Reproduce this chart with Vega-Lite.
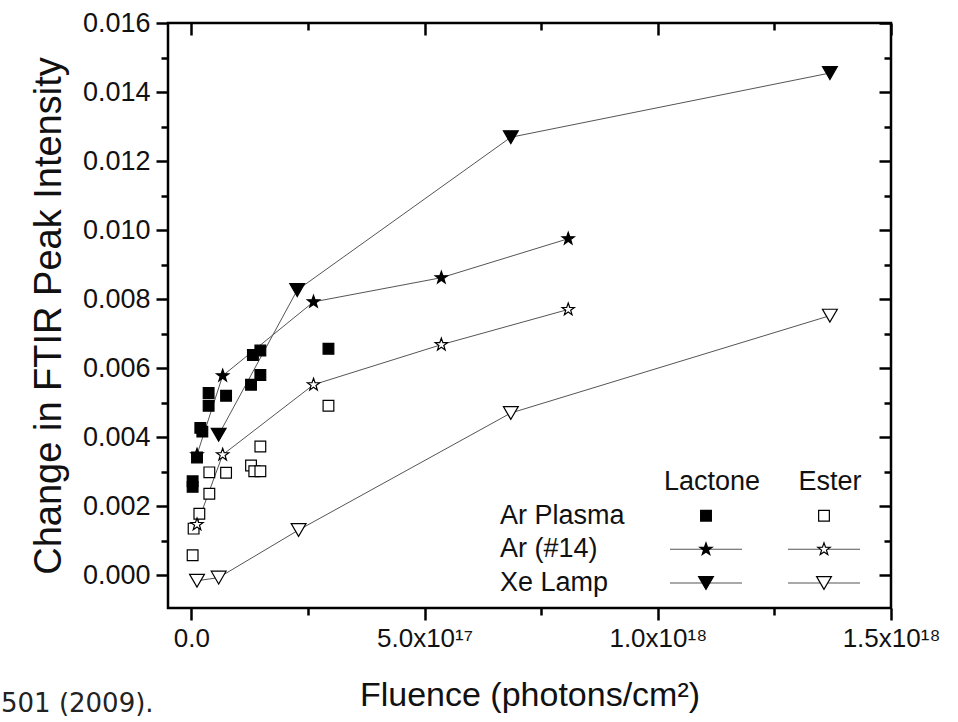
{
  "$schema": "https://vega.github.io/schema/vega-lite/v6.json",
  "width": 723,
  "height": 585,
  "autosize": "none",
  "padding": {"left": 168, "top": 23, "right": 67, "bottom": 114},
  "background": "white",
  "config": {
    "view": {"stroke": "#000", "strokeWidth": 2.5},
    "font": "Liberation Sans",
    "text": {"font": "Liberation Sans"}
  },
  "title": {
    "text": "501 (2009).",
    "orient": "bottom",
    "anchor": "start",
    "frame": "group",
    "dx": -167,
    "offset": -21,
    "font": "DejaVu Sans",
    "fontSize": 26,
    "fontWeight": "normal",
    "color": "#222"
  },
  "datasets": {
    "fig": [
      {"source": "Ar Plasma", "group": "Lactone", "fluence": 2.8e15, "intensity": 0.00272},
      {"source": "Ar Plasma", "group": "Lactone", "fluence": 2.8e15, "intensity": 0.00256},
      {"source": "Ar Plasma", "group": "Lactone", "fluence": 1.22e16, "intensity": 0.00341},
      {"source": "Ar Plasma", "group": "Lactone", "fluence": 1.93e16, "intensity": 0.00427},
      {"source": "Ar Plasma", "group": "Lactone", "fluence": 2.36e16, "intensity": 0.00416},
      {"source": "Ar Plasma", "group": "Lactone", "fluence": 3.71e16, "intensity": 0.00528},
      {"source": "Ar Plasma", "group": "Lactone", "fluence": 3.71e16, "intensity": 0.00491},
      {"source": "Ar Plasma", "group": "Lactone", "fluence": 7.45e16, "intensity": 0.0052},
      {"source": "Ar Plasma", "group": "Lactone", "fluence": 1.28e17, "intensity": 0.00552},
      {"source": "Ar Plasma", "group": "Lactone", "fluence": 1.48e17, "intensity": 0.0058},
      {"source": "Ar Plasma", "group": "Lactone", "fluence": 1.32e17, "intensity": 0.00638},
      {"source": "Ar Plasma", "group": "Lactone", "fluence": 1.48e17, "intensity": 0.00651},
      {"source": "Ar Plasma", "group": "Lactone", "fluence": 2.94e17, "intensity": 0.00656},
      {"source": "Ar Plasma", "group": "Ester", "fluence": 2.8e15, "intensity": 0.00058},
      {"source": "Ar Plasma", "group": "Ester", "fluence": 4.9e15, "intensity": 0.00135},
      {"source": "Ar Plasma", "group": "Ester", "fluence": 1.72e16, "intensity": 0.00178},
      {"source": "Ar Plasma", "group": "Ester", "fluence": 3.86e16, "intensity": 0.00236},
      {"source": "Ar Plasma", "group": "Ester", "fluence": 3.86e16, "intensity": 0.00298},
      {"source": "Ar Plasma", "group": "Ester", "fluence": 7.45e16, "intensity": 0.00297},
      {"source": "Ar Plasma", "group": "Ester", "fluence": 1.28e17, "intensity": 0.00318},
      {"source": "Ar Plasma", "group": "Ester", "fluence": 1.35e17, "intensity": 0.00301},
      {"source": "Ar Plasma", "group": "Ester", "fluence": 1.48e17, "intensity": 0.00301},
      {"source": "Ar Plasma", "group": "Ester", "fluence": 1.48e17, "intensity": 0.00373},
      {"source": "Ar Plasma", "group": "Ester", "fluence": 2.94e17, "intensity": 0.00491},
      {"source": "Ar (#14)", "group": "Lactone", "fluence": 1.22e16, "intensity": 0.00349},
      {"source": "Ar (#14)", "group": "Lactone", "fluence": 6.72e16, "intensity": 0.00578},
      {"source": "Ar (#14)", "group": "Lactone", "fluence": 2.62e17, "intensity": 0.00792},
      {"source": "Ar (#14)", "group": "Lactone", "fluence": 5.36e17, "intensity": 0.00862},
      {"source": "Ar (#14)", "group": "Lactone", "fluence": 8.08e17, "intensity": 0.00975},
      {"source": "Ar (#14)", "group": "Ester", "fluence": 1.22e16, "intensity": 0.00147},
      {"source": "Ar (#14)", "group": "Ester", "fluence": 6.72e16, "intensity": 0.00349},
      {"source": "Ar (#14)", "group": "Ester", "fluence": 2.62e17, "intensity": 0.00552},
      {"source": "Ar (#14)", "group": "Ester", "fluence": 5.36e17, "intensity": 0.00668},
      {"source": "Ar (#14)", "group": "Ester", "fluence": 8.08e17, "intensity": 0.0077},
      {"source": "Xe Lamp", "group": "Lactone", "fluence": 5.86e16, "intensity": 0.00407},
      {"source": "Xe Lamp", "group": "Lactone", "fluence": 2.27e17, "intensity": 0.00826},
      {"source": "Xe Lamp", "group": "Lactone", "fluence": 6.85e17, "intensity": 0.01269},
      {"source": "Xe Lamp", "group": "Lactone", "fluence": 1.369e18, "intensity": 0.01455},
      {"source": "Xe Lamp", "group": "Ester", "fluence": 1.22e16, "intensity": -0.00016},
      {"source": "Xe Lamp", "group": "Ester", "fluence": 5.86e16, "intensity": -0.00007},
      {"source": "Xe Lamp", "group": "Ester", "fluence": 2.3e17, "intensity": 0.00131},
      {"source": "Xe Lamp", "group": "Ester", "fluence": 6.85e17, "intensity": 0.0047},
      {"source": "Xe Lamp", "group": "Ester", "fluence": 1.369e18, "intensity": 0.00752}
    ],
    "legend": [
      {"source": "Ar Plasma", "group": "Lactone"},
      {"source": "Ar Plasma", "group": "Ester"},
      {"source": "Ar (#14)", "group": "Lactone"},
      {"source": "Ar (#14)", "group": "Ester"},
      {"source": "Xe Lamp", "group": "Lactone"},
      {"source": "Xe Lamp", "group": "Ester"}
    ]
  },
  "layer": [
    {
      "data": {"name": "fig"},
      "encoding": {
        "x": {
          "field": "fluence",
          "type": "quantitative",
          "scale": {"domain": [-5e16, 1.5e18], "nice": false, "zero": false},
          "axis": {
            "orient": "bottom",
            "values": [0, 2.5e17, 5e17, 7.5e17, 1e18, 1.25e18, 1.5e18],
            "labelExpr": "datum.value == 0 ? '0.0' : datum.value == 5e17 ? '5.0x10¹⁷' : datum.value == 1e18 ? '1.0x10¹⁸' : datum.value == 1.5e18 ? '1.5x10¹⁸' : ''",
            "title": "Fluence (photons/cm²)",
            "domain": false,
            "grid": false,
            "tickColor": "#000",
            "tickWidth": 2.5,
            "tickSize": {"condition": {"test": "round(datum.value / 2.5e17) % 2 == 0", "value": 12}, "value": 7},
            "labelFontSize": 26,
            "labelPadding": 5,
            "labelColor": "#111",
            "labelFlush": false,
            "labelOverlap": false,
            "labelBound": false,
            "titleFontSize": 34,
            "titleFontWeight": "normal",
            "titleColor": "#111",
            "titlePadding": 27
          }
        },
        "y": {
          "field": "intensity",
          "type": "quantitative",
          "scale": {"domain": [-0.00095, 0.016], "nice": false, "zero": false},
          "axis": {
            "orient": "left",
            "values": [0, 0.001, 0.002, 0.003, 0.004, 0.005, 0.006, 0.007, 0.008, 0.009, 0.01, 0.011, 0.012, 0.013, 0.014, 0.015, 0.016],
            "labelExpr": "round(datum.value * 1000) % 2 == 0 ? format(datum.value, '.3f') : ''",
            "title": "Change in FTIR Peak Intensity",
            "domain": false,
            "grid": false,
            "tickColor": "#000",
            "tickWidth": 2.5,
            "tickSize": {"condition": {"test": "round(datum.value * 1000) % 2 == 0", "value": 12}, "value": 7},
            "labelFontSize": 27,
            "labelPadding": 6,
            "labelColor": "#111",
            "labelFlush": false,
            "labelOverlap": false,
            "labelBound": false,
            "titleFontSize": 38,
            "titleFontWeight": "normal",
            "titleColor": "#111",
            "titlePadding": 14
          }
        }
      },
      "layer": [
        {
          "transform": [{"filter": "datum.source !== 'Ar Plasma'"}],
          "mark": {"type": "line", "color": "#555", "strokeWidth": 1},
          "encoding": {
            "detail": [{"field": "source"}, {"field": "group"}],
            "order": {"field": "fluence", "type": "quantitative"}
          }
        },
        {
          "mark": {"type": "point", "stroke": "#000", "strokeWidth": 1.2, "opacity": 1},
          "encoding": {
            "shape": {"field": "source", "type": "nominal", "scale": {"domain": ["Ar Plasma", "Ar (#14)", "Xe Lamp"], "range": ["square", "M0,-1L0.2351,-0.3236L0.9511,-0.309L0.3804,0.1236L0.5878,0.809L0,0.4L-0.5878,0.809L-0.3804,0.1236L-0.9511,-0.309L-0.2351,-0.3236Z", "triangle-down"]}, "legend": null},
            "fill": {"field": "group", "type": "nominal", "scale": {"domain": ["Lactone", "Ester"], "range": ["#000", "#fff"]}, "legend": null},
            "size": {"field": "source", "type": "ordinal", "scale": {"domain": ["Ar Plasma", "Ar (#14)", "Xe Lamp"], "range": [115, 220, 225]}, "legend": null}
          }
        }
      ]
    },
    {
      "data": {"name": "fig"},
      "mark": {"type": "point", "opacity": 0},
      "encoding": {
        "x": {
          "field": "fluence",
          "type": "quantitative",
          "scale": {"domain": [-5e16, 1.5e18], "nice": false, "zero": false},
          "axis": {
            "orient": "top",
            "values": [0, 2.5e17, 5e17, 7.5e17, 1e18, 1.25e18, 1.5e18],
            "labels": false,
            "title": null,
            "domain": false,
            "grid": false,
            "tickColor": "#000",
            "tickWidth": 2.5,
            "tickSize": {"condition": {"test": "round(datum.value / 2.5e17) % 2 == 0", "value": -12}, "value": -7}
          }
        },
        "y": {
          "field": "intensity",
          "type": "quantitative",
          "scale": {"domain": [-0.00095, 0.016], "nice": false, "zero": false},
          "axis": {
            "orient": "right",
            "values": [0, 0.001, 0.002, 0.003, 0.004, 0.005, 0.006, 0.007, 0.008, 0.009, 0.01, 0.011, 0.012, 0.013, 0.014, 0.015, 0.016],
            "labels": false,
            "title": null,
            "domain": false,
            "grid": false,
            "tickColor": "#000",
            "tickWidth": 2.5,
            "tickSize": {"condition": {"test": "round(datum.value * 1000) % 2 == 0", "value": -12}, "value": -7}
          }
        }
      }
    },
    {
      "data": {"name": "legend"},
      "encoding": {
        "x": {"field": "group", "type": "nominal", "scale": {"type": "point", "domain": ["Lactone", "Ester"], "range": [538, 656], "padding": 0}, "axis": null},
        "y": {"field": "source", "type": "nominal", "scale": {"type": "point", "domain": ["header", "Ar Plasma", "Ar (#14)", "Xe Lamp"], "range": [459, 560], "padding": 0}, "axis": null}
      },
      "layer": [
        {
          "transform": [{"filter": "datum.source !== 'Ar Plasma'"}],
          "mark": {"type": "tick", "orient": "horizontal", "size": 72, "thickness": 1, "color": "#555", "opacity": 1}
        },
        {
          "mark": {"type": "point", "stroke": "#000", "strokeWidth": 1.2, "opacity": 1},
          "encoding": {
            "shape": {"field": "source", "type": "nominal", "legend": null},
            "fill": {"field": "group", "type": "nominal", "legend": null},
            "size": {"field": "source", "type": "ordinal", "legend": null}
          }
        },
        {
          "transform": [{"filter": "datum.source === 'Ar Plasma'"}],
          "mark": {"type": "text", "align": "center", "baseline": "middle", "dx": 6, "fontSize": 27, "color": "#111"},
          "encoding": {
            "y": {"datum": "header", "type": "nominal"},
            "text": {"field": "group"}
          }
        },
        {
          "transform": [{"filter": "datum.group === 'Lactone'"}],
          "mark": {"type": "text", "align": "left", "baseline": "middle", "dx": -206, "fontSize": 27, "color": "#111"},
          "encoding": {
            "text": {"field": "source"}
          }
        }
      ]
    }
  ],
  "resolve": {"scale": {"x": "independent", "y": "independent"}}
}
